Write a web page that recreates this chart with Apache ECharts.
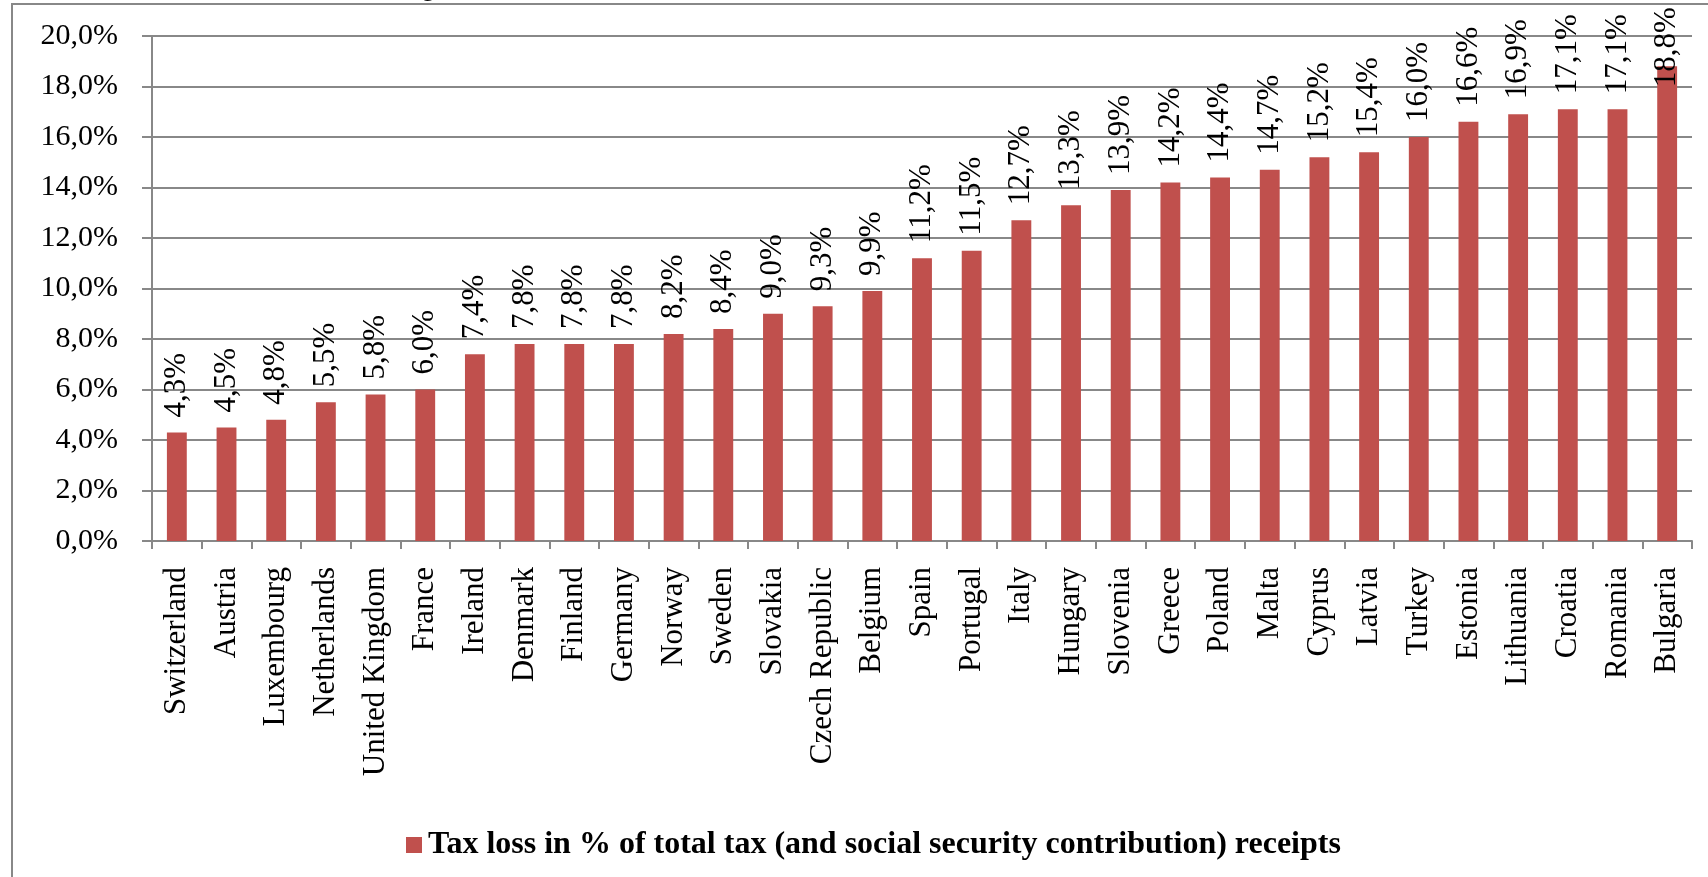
<!DOCTYPE html>
<html>
<head>
<meta charset="utf-8">
<script src="https://cdn.jsdelivr.net/npm/echarts@6/dist/echarts.min.js"></script>
<style>html,body{margin:0;padding:0;background:#fff;}#c{width:1708px;height:877px;}</style>
</head>
<body>
<div id="c"></div>
<script>
const categories = ["Switzerland","Austria","Luxembourg","Netherlands","United Kingdom","France","Ireland","Denmark","Finland","Germany","Norway","Sweden","Slovakia","Czech Republic","Belgium","Spain","Portugal","Italy","Hungary","Slovenia","Greece","Poland","Malta","Cyprus","Latvia","Turkey","Estonia","Lithuania","Croatia","Romania","Bulgaria"];
const taxLoss = [4.3,4.5,4.8,5.5,5.8,6.0,7.4,7.8,7.8,7.8,8.2,8.4,9.0,9.3,9.9,11.2,11.5,12.7,13.3,13.9,14.2,14.4,14.7,15.2,15.4,16.0,16.6,16.9,17.1,17.1,18.8];
const seriesName = "Tax loss in % of total tax (and social security contribution) receipts";
const yMin = 0, yMax = 20, yStep = 2;

const FONT = "'Times New Roman', 'Liberation Serif', serif";
const GRID = '#888888';
const fmt = v => v.toFixed(1).replace('.', ',') + '%';

const chart = echarts.init(document.getElementById('c'), null, {renderer: 'canvas'});
const lastIdx = taxLoss.length - 1;
chart.setOption({
  backgroundColor: '#ffffff',
  animation: false,
  graphic: [
    {type: 'rect', shape: {x: 12, y: 4, width: 1720, height: 900}, style: {fill: 'none', stroke: '#888888', lineWidth: 2}, z: -1},
    {type: 'text', left: 422, top: -22, style: {text: 'g', font: '24px ' + FONT, fill: '#000'}}
  ],
  grid: {left: 152, right: 16, top: 36, bottom: 336, containLabel: false},
  legend: {
    left: 401, top: 824,
    itemWidth: 16, itemHeight: 16, itemGap: 10,
    icon: 'rect',
    textStyle: {fontFamily: FONT, fontWeight: 'bold', fontSize: 32, color: '#000', padding: [0,0,0,1]},
    data: [seriesName]
  },
  xAxis: {
    type: 'category',
    data: categories,
    boundaryGap: true,
    axisLine: {show: true, lineStyle: {color: GRID, width: 2}},
    axisTick: {show: true, alignWithLabel: false, length: 8, lineStyle: {color: GRID, width: 2}},
    axisLabel: {rotate: 90, interval: 0, margin: 26, fontFamily: FONT, fontSize: 31, color: '#000'}
  },
  yAxis: {
    type: 'value',
    min: yMin, max: yMax, interval: yStep,
    axisLine: {show: true, lineStyle: {color: GRID, width: 2}},
    axisTick: {show: true, length: 10, lineStyle: {color: GRID, width: 2}},
    splitLine: {show: true, lineStyle: {color: GRID, width: 2}},
    axisLabel: {margin: 34, fontFamily: FONT, fontSize: 30, color: '#000', formatter: fmt}
  },
  series: [{
    name: seriesName,
    type: 'bar',
    barWidth: '40%',
    itemStyle: {color: '#C0504D'},
    data: taxLoss.map((v, i) => i === lastIdx
      ? {value: v, label: {distance: -21}}
      : v),
    label: {
      show: true,
      position: 'top',
      distance: 15,
      rotate: 90,
      align: 'left',
      verticalAlign: 'middle',
      fontFamily: FONT,
      fontSize: 31,
      color: '#000',
      formatter: p => fmt(p.value)
    }
  }]
});
</script>
</body>
</html>
